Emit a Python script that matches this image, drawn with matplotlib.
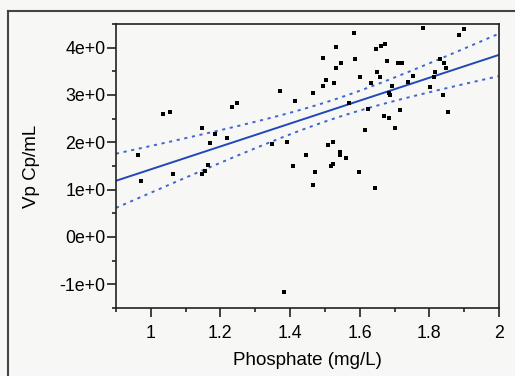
import numpy as np
import matplotlib
matplotlib.use("Agg")
import matplotlib.pyplot as plt
from matplotlib.lines import Line2D

plt.rcParams['font.family'] = ['Liberation Sans', 'DejaVu Sans']

# phosphate (mg/L) and Vp values
phosphate = [0.963, 0.973, 1.034, 1.056, 1.064, 1.148, 1.156, 1.165, 1.147, 1.170,
             1.184, 1.220, 1.234, 1.248, 1.349, 1.371, 1.382, 1.390, 1.409, 1.413,
             1.445, 1.467, 1.467, 1.472, 1.494, 1.495, 1.504, 1.510, 1.518, 1.522,
             1.524, 1.527, 1.532, 1.532, 1.542, 1.543, 1.546, 1.560, 1.569, 1.583,
             1.587, 1.597, 1.601, 1.616, 1.624, 1.633, 1.643, 1.646, 1.651, 1.657,
             1.660, 1.670, 1.674, 1.678, 1.684, 1.685, 1.688, 1.692, 1.702, 1.711,
             1.721, 1.716, 1.739, 1.752, 1.781, 1.803, 1.812, 1.816, 1.830, 1.843,
             1.849, 1.840, 1.854, 1.885, 1.899]
vp = [1.74, 1.19, 2.60, 2.63, 1.34, 1.34, 1.39, 1.53, 2.30, 1.98,
      2.17, 2.10, 2.74, 2.84, 1.975, 3.08, -1.17, 2.01, 1.50, 2.88,
      1.74, 3.04, 1.10, 1.37, 3.78, 3.18, 3.32, 1.95, 1.49, 1.55,
      2.01, 3.25, 4.01, 3.58, 1.80, 1.74, 3.68, 1.67, 2.84, 4.32,
      3.75, 1.37, 3.38, 2.27, 2.71, 3.26, 1.04, 3.98, 3.48, 3.38,
      4.04, 2.55, 4.08, 3.71, 2.51, 3.04, 3.01, 3.19, 2.31, 3.68,
      3.68, 2.68, 3.28, 3.41, 4.42, 3.16, 3.38, 3.48, 3.75, 3.68,
      3.56, 3.01, 2.65, 4.26, 4.39]

x = np.array(phosphate)
y = np.array(vp)

# least squares fit with 95% confidence band
n = len(x)
slope, intercept = np.polyfit(x, y, 1)
resid = y - (slope * x + intercept)
s = np.sqrt(np.sum(resid ** 2) / (n - 2))
sxx = np.sum((x - x.mean()) ** 2)
t = 1.993
xs = np.linspace(0.9, 2.0, 200)
fit = slope * xs + intercept
hw = t * s * np.sqrt(1 / n + (xs - x.mean()) ** 2 / sxx)

fig = plt.figure(figsize=(5.15, 3.76), dpi=100, facecolor='#f7f7f5')
ax = fig.add_axes([0.2252, 0.1809, 0.7437, 0.7553])
ax.set_facecolor('#f7f7f5')

ax.scatter(x, y, marker='s', s=6.5, color='black', linewidths=0, zorder=3)
ax.plot(xs, fit, color='#2148b8', lw=1.4, zorder=2)
ax.plot(xs, fit + hw, color='#3f66d0', lw=1.4, ls=(0, (1.6, 2.4)), zorder=2)
ax.plot(xs, fit - hw, color='#3f66d0', lw=1.4, ls=(0, (1.6, 2.4)), zorder=2)

ax.set_xlim(0.9, 2.0)
ax.set_ylim(-1.5, 4.5)
ax.set_xticks([1, 1.2, 1.4, 1.6, 1.8, 2])
ax.set_xticklabels(['1', '1.2', '1.4', '1.6', '1.8', '2'])
ax.set_xticks(np.arange(0.9, 2.01, 0.1), minor=True)
ax.set_yticks([-1, 0, 1, 2, 3, 4])
ax.set_yticklabels(['-1e+0', '0e+0', '1e+0', '2e+0', '3e+0', '4e+0'])
ax.set_yticks(np.arange(-1.5, 4.51, 0.5), minor=True)
ax.tick_params(which='major', length=6.5, width=1.2, labelsize=12.8, color='#222222')
ax.tick_params(axis='y', which='major', pad=1)
ax.tick_params(axis='x', which='major', pad=5.5)
ax.tick_params(which='minor', length=3.2, width=1.2, color='#222222')
for sp in ax.spines.values():
    sp.set_linewidth(1.2)
    sp.set_color('#222222')

ax.set_xlabel('Phosphate (mg/L)', fontsize=13.5)
ax.set_ylabel('Vp Cp/mL', fontsize=13.5)
ax.xaxis.set_label_coords(0.5, -0.155)
ax.yaxis.set_label_coords(-0.198, 0.5)

# outer frame (top and left edges visible)
fig.add_artist(Line2D([8 / 515, 8 / 515], [0, 1 - 11 / 376], transform=fig.transFigure,
                      color='#444444', lw=1.5))
fig.add_artist(Line2D([8 / 515, 1], [1 - 11 / 376, 1 - 11 / 376], transform=fig.transFigure,
                      color='#444444', lw=1.5))

fig.savefig('out.png', dpi=100, facecolor=fig.get_facecolor())
